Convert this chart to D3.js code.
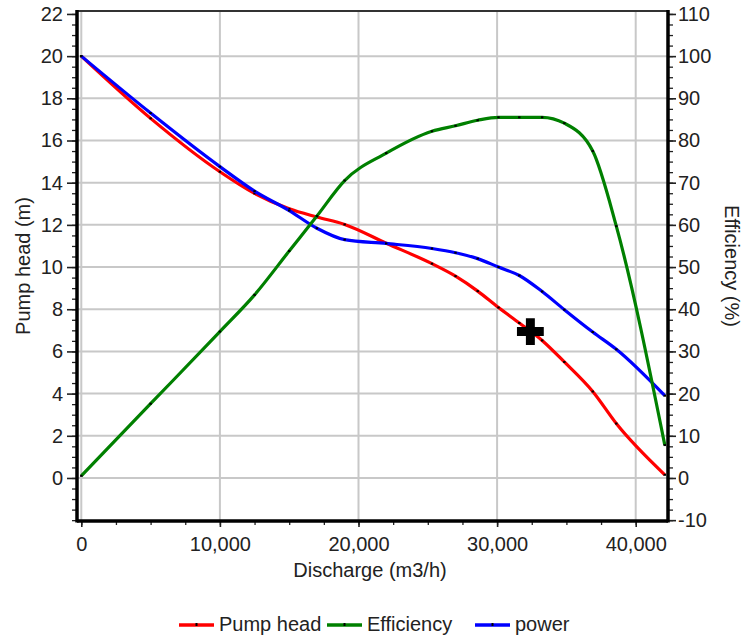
<!DOCTYPE html>
<html>
<head>
<meta charset="utf-8">
<script src="https://cdn.jsdelivr.net/npm/d3@7"></script>
<style>
  html, body { margin: 0; padding: 0; background: #ffffff; }
  svg { display: block; font-family: "Liberation Sans", Arial, sans-serif; }
</style>
</head>
<body>
<svg id="chart" width="748" height="636"></svg>
<script>
// Pump characteristic curves, sampled at the same discharge points (m3/h)
const discharge  = [0, 5000, 10000, 12500, 15000, 17000, 19000, 22000, 25300, 27000, 28600, 30100, 31600, 33250, 34850, 36900, 38600, 42100];
// Pump head (m) - left axis
const pumpHead   = [20.0, 17.05, 14.52, 13.49, 12.76, 12.37, 12.02, 11.13, 10.16, 9.57, 8.86, 8.08, 7.35, 6.52, 5.50, 4.10, 2.58, 0.15];
// Efficiency (%) - right axis
const efficiency = [0.5, 17.6, 34.7, 43.4, 53.8, 62.1, 70.5, 77.0, 82.2, 83.5, 84.8, 85.5, 85.5, 85.5, 84.1, 77.5, 59.7, 7.8];
// Relative power (%) - right axis
const power      = [100, 86.5, 73.8, 68.0, 63.4, 59.2, 56.5, 55.6, 54.4, 53.4, 52.0, 50.0, 48.0, 44.2, 39.9, 34.6, 30.5, 19.5];

// Duty point: [discharge, head]
const dutyPoint = [32400, 6.94];

// Axis ticks
const dischargeTicks = [0, 10000, 20000, 30000, 40000];
const headTicks      = [0, 2, 4, 6, 8, 10, 12, 14, 16, 18, 20, 22];
const pctTicks       = [-10, 0, 10, 20, 30, 40, 50, 60, 70, 80, 90, 100, 110];

// Legend entries
const seriesNames  = ["Pump head", "Efficiency", "power"];
const seriesColors = ["#ff0000", "#008000", "#0000ff"];

// ---- layout ----
const plot = { left: 77, right: 668, top: 11, bottom: 521 };
const fontSize = 20;
const ink = "#222";

const svg = d3.select("#chart");

const x = d3.scaleLinear().domain([-310, 42330]).range([plot.left, plot.right]);
const yHead = d3.scaleLinear().domain([-2.04, 22.14]).range([plot.bottom, plot.top]);
const yPct = d3.scaleLinear().domain([-10.2, 110.7]).range([plot.bottom, plot.top]);

// ---- grid ----
const grid = svg.append("g").attr("stroke", "#c8c8c8").attr("stroke-width", 2);
grid.selectAll("line.v").data(dischargeTicks).join("line")
  .attr("class", "v")
  .attr("x1", d => x(d)).attr("x2", d => x(d))
  .attr("y1", plot.top).attr("y2", plot.bottom);
grid.selectAll("line.h").data(headTicks.filter(d => d < 22)).join("line")
  .attr("class", "h")
  .attr("x1", plot.left).attr("x2", plot.right)
  .attr("y1", d => yHead(d)).attr("y2", d => yHead(d));

// ---- axes ----
function styleAxis(g, minor) {
  g.select(".domain").remove();
  g.selectAll(".tick line").attr("stroke", ink).attr("stroke-width", minor ? 1.3 : 1.6);
  g.selectAll(".tick text").attr("fill", ink).style("font-size", fontSize + "px");
}

// minor ticks
const headMinor = d3.range(-2, 22.01, 0.5);
const pctMinor = d3.range(-10, 110.01, 2.5);
const dischargeMinor = d3.range(0, 42001, 2500);

svg.append("g").attr("transform", `translate(${plot.left},0)`)
  .call(d3.axisLeft(yHead).tickValues(headMinor).tickSize(5).tickFormat(""))
  .call(g => styleAxis(g, true));
svg.append("g").attr("transform", `translate(${plot.right},0)`)
  .call(d3.axisRight(yPct).tickValues(pctMinor).tickSize(5).tickFormat(""))
  .call(g => styleAxis(g, true));
svg.append("g").attr("transform", `translate(0,${plot.bottom})`)
  .call(d3.axisBottom(x).tickValues(dischargeMinor).tickSize(4).tickFormat(""))
  .call(g => styleAxis(g, true));

// major ticks with labels
svg.append("g").attr("transform", `translate(${plot.left},0)`)
  .call(d3.axisLeft(yHead).tickValues(headTicks).tickSize(10).tickPadding(4).tickFormat(d => String(d)))
  .call(g => styleAxis(g, false));
svg.append("g").attr("transform", `translate(${plot.right},0)`)
  .call(d3.axisRight(yPct).tickValues(pctTicks).tickSize(8).tickPadding(2).tickFormat(d => String(d)))
  .call(g => styleAxis(g, false));
svg.append("g").attr("transform", `translate(0,${plot.bottom})`)
  .call(d3.axisBottom(x).tickValues(dischargeTicks).tickSize(6).tickPadding(10).tickFormat(d3.format(",")))
  .call(g => styleAxis(g, false));

// frame
svg.append("line").attr("x1", plot.left).attr("x2", plot.right).attr("y1", plot.top).attr("y2", plot.top)
  .attr("stroke", "#333").attr("stroke-width", 2);
svg.append("line").attr("x1", plot.left).attr("x2", plot.left).attr("y1", plot.top - 1).attr("y2", plot.bottom + 1.5)
  .attr("stroke", "#000").attr("stroke-width", 3.5);
svg.append("line").attr("x1", plot.right).attr("x2", plot.right).attr("y1", plot.top - 1).attr("y2", plot.bottom + 1.5)
  .attr("stroke", "#000").attr("stroke-width", 3.5);
svg.append("line").attr("x1", plot.left).attr("x2", plot.right).attr("y1", plot.bottom).attr("y2", plot.bottom)
  .attr("stroke", "#000").attr("stroke-width", 3.5);

// ---- series ----
const series = [
  { values: pumpHead,   y: yHead, color: seriesColors[0] },
  { values: power,      y: yPct,  color: seriesColors[2] },
  { values: efficiency, y: yPct,  color: seriesColors[1] }
];

series.forEach(s => {
  const pts = discharge.map((q, i) => [q, s.values[i]]);
  const line = d3.line()
    .x(d => x(d[0]))
    .y(d => s.y(d[1]))
    .curve(d3.curveMonotoneX);
  svg.append("path")
    .datum(pts)
    .attr("d", line)
    .attr("fill", "none")
    .attr("stroke", s.color)
    .attr("stroke-width", 3.2)
    .attr("stroke-linejoin", "round");
  svg.append("g").selectAll("rect").data(pts).join("rect")
    .attr("x", d => x(d[0]) - 1.2)
    .attr("y", d => s.y(d[1]) - 1)
    .attr("width", 2.4)
    .attr("height", 2)
    .attr("fill", "#000");
});

// duty point marker
svg.append("path")
  .attr("d", d3.symbol(d3.symbolCross, 400)())
  .attr("transform", `translate(${x(dutyPoint[0])},${yHead(dutyPoint[1])})`)
  .attr("fill", "#000");

// ---- axis titles ----
svg.append("text")
  .attr("transform", `translate(30,${(plot.top + plot.bottom) / 2}) rotate(-90)`)
  .attr("text-anchor", "middle")
  .attr("fill", ink)
  .style("font-size", fontSize + "px")
  .text("Pump head (m)");

svg.append("text")
  .attr("transform", `translate(725,${(plot.top + plot.bottom) / 2}) rotate(90)`)
  .attr("text-anchor", "middle")
  .attr("fill", ink)
  .style("font-size", fontSize + "px")
  .text("Efficiency (%)");

svg.append("text")
  .attr("x", 370)
  .attr("y", 577)
  .attr("text-anchor", "middle")
  .attr("fill", ink)
  .style("font-size", fontSize + "px")
  .text("Discharge (m3/h)");

// ---- legend ----
const legend = svg.append("g").attr("transform", "translate(179,625)");
const item = legend.selectAll("g").data(seriesNames).join("g")
  .attr("transform", (d, i) => `translate(${i * 148},0)`);
item.append("line")
  .attr("x1", 0).attr("x2", 35).attr("y1", 0).attr("y2", 0)
  .attr("stroke", (d, i) => seriesColors[i])
  .attr("stroke-width", 3.5);
item.append("rect")
  .attr("x", 16.5).attr("y", -2).attr("width", 2).attr("height", 3)
  .attr("fill", "#000");
item.append("text")
  .attr("x", 40)
  .attr("y", 5.5)
  .attr("fill", ink)
  .style("font-size", fontSize + "px")
  .text(d => d);
</script>
</body>
</html>
